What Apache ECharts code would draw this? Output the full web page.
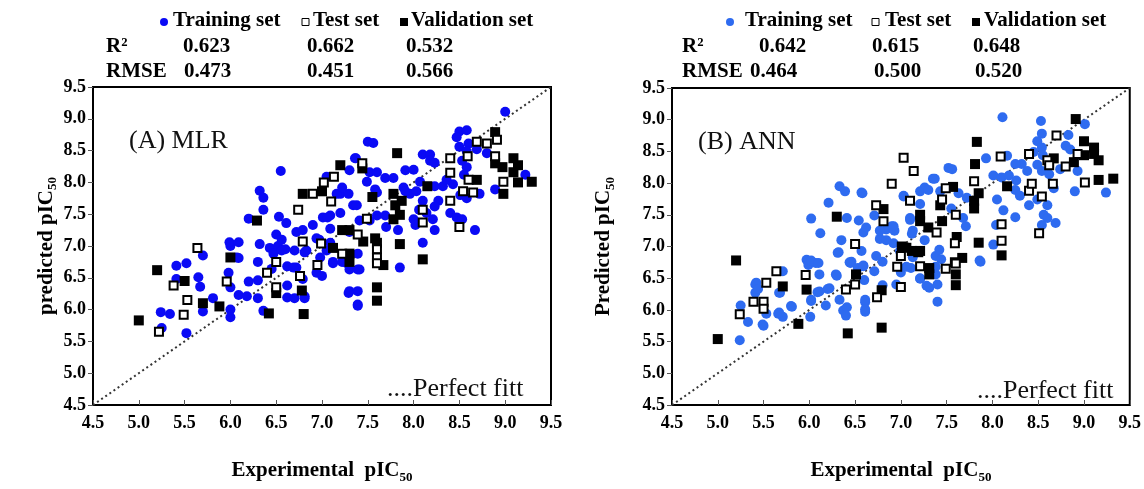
<!DOCTYPE html>
<html lang="en">
<head>
    <meta charset="UTF-8">
    <script src="https://cdn.jsdelivr.net/npm/echarts@6/dist/echarts.min.js"></script>
    <title>MLR vs ANN</title>
    <style>
        html, body { margin: 0; padding: 0; background: #fff; }
    </style>
</head>
<body>
    <div id="main" style="width:1144px;height:489px"></div>
    <script>
        // axis ticks (both panels share the same range)
        var axisMin = 4.5;
        var axisMax = 9.5;
        var axisStep = 0.5;

        // statistics shown above each panel
        var statCols = ['Training set', 'Test set', 'Validation set'];
        var mlrR2 = ['0.623', '0.662', '0.532'];
        var mlrRmse = ['0.473', '0.451', '0.566'];
        var annR2 = ['0.642', '0.615', '0.648'];
        var annRmse = ['0.464', '0.500', '0.520'];

        // (A) MLR : [experimental, predicted]
        var mlrTrain = [
            [5.24,5.96],[5.34,5.93],[5.25,5.71],[5.52,5.63],[5.41,6.69],[5.52,6.73],[5.41,6.48],[5.65,6.51],
            [5.67,6.36],[5.7,6.85],[5.7,5.97],[5.81,6.18],[6.0,7.0],[5.98,6.58],[6.0,6.35],[6.0,6.0],
            [6.0,5.88],[6.09,6.81],[6.09,6.23],[6.18,6.21],[6.2,6.44],[6.3,6.46],[6.3,6.18],[6.3,6.75],
            [6.32,7.03],[6.36,5.98],[6.43,6.97],[6.47,6.88],[6.52,7.0],[6.6,6.95],[6.62,6.68],[6.62,6.38],
            [6.62,6.19],[6.72,6.66],[6.79,6.48],[6.81,6.21],[6.83,6.93],[6.94,6.58],
            [6.55,8.18],[6.32,7.87],[6.36,7.76],[6.36,7.57],[6.2,7.43],[6.53,7.46],[6.61,7.36],[6.5,7.18],
            [6.72,7.22],[5.99,7.06],[6.09,7.06],[6.56,7.1],[6.56,6.93],[6.07,6.82],[6.45,6.64],[6.69,6.66],
            [6.7,6.18],[6.97,7.1],
            [6.79,7.25],[6.7,6.93],[6.94,7.12],[6.9,7.33],[7.01,7.45],[7.09,7.48],[7.2,7.52],[7.05,6.93],
            [7.12,6.73],[7.27,6.73],[7.41,6.63],[7.3,6.29],[7.39,6.29],[7.39,6.08],[7.34,7.64],[7.2,7.82],
            [7.29,7.82],[7.3,8.19],[7.37,8.38],[7.5,8.64],[7.05,8.09],[7.41,7.4],[7.09,7.05],
            [7.56,8.62],[7.36,8.38],[7.52,8.16],[7.6,8.16],[7.69,8.07],[7.78,8.07],[7.91,8.19],[8.0,8.2],
            [8.1,8.44],[8.18,8.44],[8.07,8.01],[8.18,8.34],[8.23,8.31],[7.89,7.92],[7.96,7.82],[8.1,7.71],
            [8.23,7.94],[8.27,7.71],[8.03,7.86],[8.06,7.57],[8.23,7.62],[8.14,7.52],[8.4,7.52],[8.47,7.45],
            [8.53,7.42],[8.67,7.25],[8.1,7.05],[8.5,8.8],[8.58,8.82],[8.47,8.71],[8.5,8.56],[8.6,8.61],
            [8.58,8.49],[8.69,8.52],[8.8,8.46],[9.0,9.11],[9.22,8.12],[8.89,7.89],[8.53,8.34],[8.58,8.24],
            [8.55,8.12],[8.43,7.97],[8.51,7.8],[8.58,7.75],[8.72,7.82],[8.32,7.94],[8.36,8.04],
            [7.91,7.86],[7.16,7.82],[7.22,7.92],[7.49,8.01],[7.58,7.89],[7.38,7.64],[7.6,7.84],[7.06,7.45],
            [7.6,7.48],[7.52,7.4],[7.69,7.48],[7.7,7.3],[7.83,7.25],[8.0,7.42],[8.02,7.33],[8.21,7.42],
            [8.23,7.25],[7.3,7.22],[7.09,7.27],
            [6.81,6.9],[6.98,6.82],[7.0,6.53],[6.81,6.18],[7.12,6.75],[7.22,6.75],[7.3,6.63],[7.39,6.88],
            [7.39,6.63],[7.29,6.26],[7.39,6.06],[7.85,6.66]
        ];
        var mlrTest = [
            [5.22,5.65],[5.38,6.38],[5.49,5.92],[5.53,6.15],[5.64,6.97],[5.96,6.44],[6.4,6.58],[6.5,6.75],
            [6.5,6.35],[6.74,7.57],[6.76,6.53],[6.79,7.07],[6.9,7.82],[6.95,6.7],[6.99,7.04],[7.02,8.0],
            [7.1,7.7],[7.13,8.09],[7.22,6.88],[7.39,7.18],[7.44,8.3],[7.49,7.43],[7.6,6.95],[7.6,6.82],
            [7.6,6.73],[8.1,7.57],[8.1,7.37],[8.4,8.38],[8.4,8.15],[8.4,7.71],[8.5,7.3],[8.54,7.86],
            [8.59,8.41],[8.6,8.04],[8.65,7.84],[8.69,8.64],[8.8,8.61],[8.89,8.41],[8.91,8.67],[8.98,8.01]
        ];
        var mlrValid = [
            [5.0,5.83],[5.2,6.62],[5.5,6.45],[5.7,6.1],[5.88,6.05],[6.0,6.82],[6.29,7.4],[6.42,5.94],
            [6.5,6.26],[6.78,6.3],[6.8,5.93],[6.79,7.82],[7.0,7.86],[7.12,6.97],[7.2,8.27],[7.22,7.25],
            [7.3,7.25],[7.3,6.88],[7.3,6.75],[7.44,8.22],[7.45,7.07],[7.55,7.77],[7.58,7.12],[7.6,7.05],
            [7.6,6.35],[7.6,6.14],[7.67,6.7],[7.78,7.82],[7.8,7.64],[7.78,7.42],[7.82,8.46],[7.85,7.49],
            [7.85,7.03],[7.87,7.71],[8.1,6.79],[8.15,7.94],[8.69,8.04],[8.89,8.79],[8.89,8.3],[8.97,8.24],
            [9.09,8.38],[9.14,8.27],[9.09,8.16],[9.14,8.0],[9.29,8.01],[8.98,7.82]
        ];

        // (B) ANN : [experimental, predicted]
        var annTrain = [
            [5.24,5.52],[5.25,6.07],[5.33,5.81],[5.41,6.4],[5.41,6.27],[5.5,5.75],[5.53,5.94],[5.71,6.61],
            [5.68,6.27],[5.66,5.94],[5.71,5.89],[5.81,6.05],[5.97,6.79],[5.99,6.71],[6.07,6.74],[6.02,6.14],
            [6.01,5.89],[6.11,6.56],[6.11,6.29],[6.18,6.07],[6.22,6.34],[6.3,6.54],[6.37,5.99],[6.41,6.04],
            [6.45,6.74],[6.53,6.66],[6.59,6.69],[6.6,6.47],[6.61,6.12],[6.61,5.97],[6.8,6.76],[6.8,6.39],
            [7.0,6.59],[7.11,6.66],[7.21,6.49],[7.31,6.35],[7.4,6.4],[7.4,6.13],[7.38,6.56],[7.87,6.76],
            [6.33,7.95],[6.39,7.87],[6.21,7.69],[6.57,7.85],[6.02,7.44],[6.41,7.45],[6.54,7.41],[6.12,7.21],
            [6.35,7.1],[6.59,7.22],[6.32,6.91],[6.46,6.76],[6.02,6.78],[6.1,6.74],[6.57,6.93],[6.59,6.7],
            [6.71,7.49],[6.84,7.27],[6.9,7.32],[6.77,7.12],[6.73,6.85],[6.92,7.05],[6.44,6.75],[6.31,6.9],
            [6.29,6.56],[6.2,6.33],[6.33,6.16],[6.09,6.28],[6.02,6.16],[5.8,6.06],[5.67,5.96],[5.49,5.77],
            [5.42,6.43],[5.44,6.33],[5.67,6.27],[6.4,5.91],[6.61,6.16],[6.61,6.01],[7.03,7.79],[7.21,7.87],
            [7.26,7.93],[7.35,8.07],[7.1,7.42],[6.93,7.25],[7.13,7.25],[7.26,7.1],[7.13,6.83],[7.06,6.68],
            [7.21,6.5],[7.28,6.38],[6.95,6.4],[6.71,6.61],[7.38,6.85],[7.38,6.68],
            [8.11,9.04],[8.53,8.98],[8.54,8.78],[8.49,8.66],[8.83,8.76],[8.8,8.59],[8.85,8.53],[8.54,8.56],
            [8.45,8.49],[8.55,8.44],[7.93,8.39],[8.16,8.43],[8.32,8.3],[8.25,8.3],[8.38,8.19],[8.49,8.29],
            [8.54,8.19],[8.62,8.14],[8.74,8.22],[8.93,8.19],[8.01,8.12],[8.1,8.09],[8.18,8.12],[8.26,8.04],
            [8.25,7.89],[8.3,7.8],[8.4,7.65],[8.49,7.74],[8.6,7.65],[8.56,7.5],[8.6,7.45],[8.69,7.37],
            [8.54,7.34],[8.67,7.92],[8.9,7.87],[9.24,7.85],[8.05,7.74],[8.12,7.57],[8.25,7.46],[8.04,7.34],
            [7.72,7.77],[7.63,7.84],[7.68,7.45],[7.71,7.32],[7.55,7.6],[7.37,8.07],[7.52,8.24],[7.56,8.22],
            [7.43,7.87],[7.3,7.89],[7.03,7.8],[7.1,7.45],[7.21,7.67],[6.58,7.84],[6.62,7.3],[6.77,7.25],
            [6.92,7.32],[6.84,7.1],[6.99,6.93],[7.12,7.2],[7.42,6.95],[7.44,6.8],[7.86,6.78],[8.01,7.03],
            [9.01,8.93]
        ];
        var annTest = [
            [5.24,5.93],[5.39,6.13],[5.5,6.13],[5.5,6.02],[5.53,6.43],[5.64,6.61],[5.96,6.55],[6.4,6.32],
            [6.5,6.4],[6.5,7.04],[6.73,7.65],[6.74,6.2],[6.81,7.4],[6.9,7.99],[6.96,6.68],[7.0,6.36],
            [7.0,6.85],[7.03,8.4],[7.1,7.72],[7.14,8.19],[7.21,6.69],[7.39,7.22],[7.45,7.74],[7.49,7.92],
            [7.49,6.65],[7.59,7.05],[7.59,6.75],[7.6,7.5],[7.6,6.73],[7.8,8.03],[8.09,8.42],[8.1,7.35],
            [8.1,7.09],[8.4,8.46],[8.4,7.88],[8.43,7.99],[8.51,7.21],[8.54,7.79],[8.6,8.36],[8.62,8.28],
            [8.66,7.99],[8.7,8.75],[8.8,8.26],[8.93,8.46],[9.01,8.01]
        ];
        var annValid = [
            [5.0,5.54],[5.2,6.78],[5.71,6.37],[5.88,5.78],[5.97,6.32],[6.3,7.47],[6.42,5.63],[6.51,6.56],
            [6.79,5.72],[6.79,6.31],[6.81,7.59],[7.01,7.0],[7.06,6.98],[7.12,6.93],[7.19,6.91],[7.21,7.5],
            [7.21,7.4],[7.21,6.93],[7.3,7.3],[7.31,6.66],[7.31,6.56],[7.43,7.65],[7.45,7.4],[7.57,7.94],
            [7.6,6.56],[7.6,6.39],[7.61,7.15],[7.67,6.82],[7.8,7.72],[7.8,7.6],[7.81,8.3],[7.83,8.65],
            [7.85,7.84],[7.85,7.06],[8.1,6.86],[8.16,7.95],[8.67,8.39],[8.89,8.33],[8.91,9.01],[9.0,8.66],
            [9.0,8.44],[9.11,8.56],[9.11,8.46],[9.16,8.36],[9.16,8.05],[9.32,8.07]
        ];

        var serif = '"Liberation Serif", "Times New Roman", serif';
        var nameRich = {
            a: { fontFamily: serif, fontWeight: 'bold', fontSize: 21, color: '#000', lineHeight: 26 },
            s: { fontFamily: serif, fontWeight: 'bold', fontSize: 13, color: '#000', lineHeight: 14, verticalAlign: 'bottom' }
        };

        function makeX(idx, gap) {
            return {
                gridIndex: idx, type: 'value', min: axisMin, max: axisMax, interval: axisStep,
                name: '{a|Experimental  pIC}{s|50}', nameLocation: 'middle', nameGap: gap,
                nameTextStyle: { rich: nameRich },
                axisLine: { show: true, onZero: false, lineStyle: { color: '#000', width: 1.5 } },
                axisTick: { show: true, inside: true, length: 5, lineStyle: { color: '#555' } },
                axisLabel: {
                    formatter: function (v) { return v.toFixed(1); },
                    fontFamily: serif, fontWeight: 'bold', fontSize: 18, color: '#000', margin: 9
                },
                splitLine: { show: false }
            };
        }
        function makeY(idx, title, gap) {
            return {
                gridIndex: idx, type: 'value', min: axisMin, max: axisMax, interval: axisStep,
                name: '{a|' + title + '}{s|50}', nameLocation: 'middle', nameGap: gap, nameRotate: 90,
                nameTextStyle: { rich: nameRich },
                axisLine: { show: true, onZero: false, lineStyle: { color: '#000', width: 1.5 } },
                axisTick: { show: true, inside: false, length: 5, lineStyle: { color: '#555' } },
                axisLabel: {
                    formatter: function (v) { return v.toFixed(1); },
                    fontFamily: serif, fontWeight: 'bold', fontSize: 18, color: '#000', margin: 7
                },
                splitLine: { show: false }
            };
        }

        function panelSeries(idx, train, test, valid, blue) {
            return [
                {
                    type: 'line', xAxisIndex: idx, yAxisIndex: idx, data: [[axisMin, axisMin], [axisMax, axisMax]],
                    symbol: 'none', silent: true, z: 1,
                    lineStyle: { color: '#333', width: 2, type: [2, 3] }
                },
                {
                    name: 'Training set', type: 'scatter', xAxisIndex: idx, yAxisIndex: idx, data: train,
                    symbol: 'circle', symbolSize: 10, z: 2, itemStyle: { color: blue, opacity: 1 }
                },
                {
                    name: 'Validation set', type: 'scatter', xAxisIndex: idx, yAxisIndex: idx, data: valid,
                    symbol: 'rect', symbolSize: 10, z: 3, itemStyle: { color: '#000', opacity: 1 }
                },
                {
                    name: 'Test set', type: 'scatter', xAxisIndex: idx, yAxisIndex: idx, data: test,
                    symbol: 'rect', symbolSize: 8, z: 4,
                    itemStyle: { color: '#fff', borderColor: '#000', borderWidth: 2, opacity: 1 }
                }
            ];
        }

        // header text blocks (legend + statistics) above each panel
        function header(pos, blue) {
            var hFont = 'bold 21px ' + serif;
            var els = [];
            els.push({ type: 'circle', shape: { cx: pos.dot, cy: 22, r: 4 }, style: { fill: blue } });
            els.push({ type: 'text', x: pos.train, y: 21, style: { text: statCols[0], font: hFont, fill: '#000', verticalAlign: 'middle' } });
            els.push({ type: 'rect', shape: { x: pos.open, y: 18.5, width: 7, height: 7 }, style: { fill: '#fff', stroke: '#000', lineWidth: 1 } });
            els.push({ type: 'text', x: pos.test, y: 21, style: { text: statCols[1], font: hFont, fill: '#000', verticalAlign: 'middle' } });
            els.push({ type: 'rect', shape: { x: pos.fill, y: 18, width: 8, height: 8 }, style: { fill: '#000' } });
            els.push({ type: 'text', x: pos.valid, y: 21, style: { text: statCols[2], font: hFont, fill: '#000', verticalAlign: 'middle' } });
            els.push({ type: 'text', x: pos.lab, y: 47, style: { text: 'R²', font: hFont, fill: '#000', verticalAlign: 'middle' } });
            els.push({ type: 'text', x: pos.lab, y: 72, style: { text: 'RMSE', font: hFont, fill: '#000', verticalAlign: 'middle' } });
            for (var i = 0; i < 3; i++) {
                els.push({ type: 'text', x: pos.r2[i], y: 47, style: { text: pos.r2v[i], font: hFont, fill: '#000', verticalAlign: 'middle' } });
                els.push({ type: 'text', x: pos.rm[i], y: 72, style: { text: pos.rmv[i], font: hFont, fill: '#000', verticalAlign: 'middle' } });
            }
            return els;
        }

        var blueA = '#0a0af5';
        var blueB = '#2e6bf0';
        var tagFont = '26px ' + serif;

        var graphics = [].concat(
            header({ dot: 164, train: 173, open: 302, test: 313, fill: 400, valid: 411, lab: 106,
                     r2: [183, 307, 406], rm: [184, 307, 406], r2v: mlrR2, rmv: mlrRmse }, blueA),
            header({ dot: 730, train: 745, open: 872, test: 885, fill: 972, valid: 984, lab: 682,
                     r2: [759, 872, 973], rm: [750, 874, 975], r2v: annR2, rmv: annRmse }, blueB),
            [
                { type: 'text', x: 129, y: 141, style: { text: '(A) MLR', font: tagFont, fill: '#111', verticalAlign: 'middle' } },
                { type: 'text', x: 698, y: 142, style: { text: '(B) ANN', font: tagFont, fill: '#111', verticalAlign: 'middle' } },
                { type: 'text', x: 387, y: 389, style: { text: '....Perfect fitt', font: tagFont, fill: '#111', verticalAlign: 'middle' } },
                { type: 'text', x: 977, y: 391, style: { text: '....Perfect fitt', font: tagFont, fill: '#111', verticalAlign: 'middle' } }
            ]
        );

        var chart = echarts.init(document.getElementById('main'));
        var option = {
            backgroundColor: '#fff',
            animation: false,
            grid: [
                { left: 93, top: 87, width: 458, height: 336, show: true, borderColor: '#000', borderWidth: 2, backgroundColor: 'transparent' },
                { left: 672, top: 88, width: 458, height: 335, show: true, borderColor: '#000', borderWidth: 2, backgroundColor: 'transparent' }
            ],
            xAxis: [makeX(0, 53), makeX(1, 53)],
            yAxis: [makeY(0, 'predicted pIC', 31), makeY(1, 'Predicted pIC', 55)],
            series: [].concat(
                panelSeries(0, mlrTrain, mlrTest, mlrValid, blueA),
                panelSeries(1, annTrain, annTest, annValid, blueB)
            ),
            graphic: graphics
        };
        chart.setOption(option);
    </script>
</body>
</html>
